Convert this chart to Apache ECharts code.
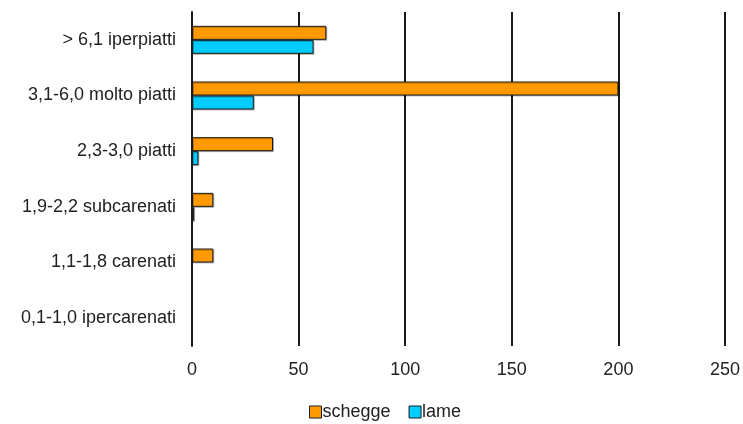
<!DOCTYPE html>
<html>
<head>
<meta charset="utf-8">
<script src="https://cdn.jsdelivr.net/npm/echarts@6/dist/echarts.min.js"></script>
<style>
html, body { margin: 0; padding: 0; background: #ffffff; }
#chart { width: 743px; height: 424px; }
</style>
</head>
<body>
<div id="chart"></div>
<script>
// categorie dall'alto verso il basso
const categories = [
  "> 6,1 iperpiatti",
  "3,1-6,0 molto piatti",
  "2,3-3,0 piatti",
  "1,9-2,2 subcarenati",
  "1,1-1,8 carenati",
  "0,1-1,0 ipercarenati"
];
const schegge = [63, 200, 38, 10, 10, 0];
const lame = [57, 29, 3, 1, 0, 0];
const xTicks = { min: 0, max: 250, interval: 50 };

const chart = echarts.init(document.getElementById("chart"));
const barStyle = (color) => ({
  color: color,
  borderColor: "#1a1a1a",
  borderWidth: 1,
  shadowColor: "rgba(0,0,0,0.25)",
  shadowOffsetX: 1,
  shadowOffsetY: 1,
  shadowBlur: 0
});
// le barre a zero non si disegnano
const noZero = (arr) => arr.map(v => (v === 0 ? "-" : v));

chart.setOption({
  animation: false,
  textStyle: { fontFamily: "Liberation Sans, Arial, sans-serif" },
  grid: {
    left: 192,
    right: 18,
    top: 12,
    bottom: 78
  },
  legend: {
    data: ["schegge", "lame"],
    bottom: -2,
    left: 304,
    icon: "rect",
    itemWidth: 12,
    itemHeight: 12,
    itemGap: 18,
    textStyle: { color: "#222222", fontSize: 18, padding: [0, 0, 0, -4] },
    itemStyle: { borderColor: "#1a1a1a", borderWidth: 1 }
  },
  xAxis: {
    type: "value",
    min: xTicks.min,
    max: xTicks.max,
    interval: xTicks.interval,
    axisLine: { show: false },
    axisTick: { show: false },
    axisLabel: { color: "#222222", fontSize: 18, margin: 15 },
    splitLine: {
      show: true,
      lineStyle: { color: "#1a1a1a", width: 2 }
    }
  },
  yAxis: {
    type: "category",
    inverse: true,
    data: categories,
    axisLine: { show: true, lineStyle: { color: "#1a1a1a", width: 2 } },
    axisTick: { show: false },
    axisLabel: { color: "#222222", fontSize: 18, margin: 16 }
  },
  series: [
    {
      name: "schegge",
      type: "bar",
      data: noZero(schegge),
      barWidth: 14,
      barGap: "0%",
      itemStyle: barStyle("#ff9900")
    },
    {
      name: "lame",
      type: "bar",
      data: noZero(lame),
      barWidth: 14,
      barGap: "0%",
      itemStyle: barStyle("#00ccff")
    }
  ]
});
</script>
</body>
</html>
